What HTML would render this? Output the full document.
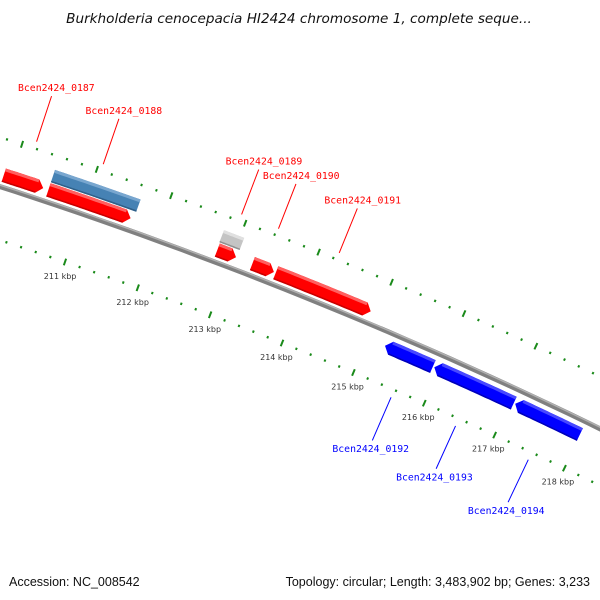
<!DOCTYPE html>
<html><head><meta charset="utf-8"><style>
body{margin:0;background:#fff}
svg{display:block}
text{font-family:"DejaVu Sans","Liberation Sans",sans-serif}
.gl{font-family:"DejaVu Sans Mono","Liberation Mono",monospace;font-size:9.8px}
</style></head><body>
<svg id="map" width="600" height="600" viewBox="0 0 600 600" xmlns="http://www.w3.org/2000/svg">
<rect width="600" height="600" fill="#fff"/>
<text x="299" y="23" text-anchor="middle" font-size="13.6" font-style="italic" fill="#111">Burkholderia cenocepacia HI2424 chromosome 1, complete seque...</text>
<g id="ticks"></g>
<g id="backbone"></g>
<g id="genes"></g>
<g id="labels"></g>
<text x="9" y="586" font-size="12.5" fill="#111" style="font-family:'Liberation Sans',sans-serif">Accession: NC_008542</text>
<text x="590" y="586" font-size="12.5" fill="#111" text-anchor="end" style="font-family:'Liberation Sans',sans-serif">Topology: circular; Length: 3,483,902 bp; Genes: 3,233</text>
</svg>
<script>
const geneNames = ["Bcen2424_0187","Bcen2424_0188","","Bcen2424_0189","","Bcen2424_0190","Bcen2424_0191","Bcen2424_0192","Bcen2424_0193","Bcen2424_0194"];
const geneStarts = [209900,210500,210500,212790,212780,213270,213590,215240,215930,217070];
const geneEnds   = [210430,211610,211650,213045,213055,213565,214900,215910,217050,217990];
const geneStrands = [1,1,1,1,1,1,1,-1,-1,-1];
const geneRows = [0,0,1,0,1,0,0,0,0,0];
const geneKinds = ["cds","cds","gene","cds","gene","cds","cds","cds","cds","cds"];
const tickStartBp = 208000, tickEndBp = 220000, tickStep = 200, majorStep = 1000;

const NS="http://www.w3.org/2000/svg";
const CX=-1400, CY=4519, RB=4553, RUP=4600, RLO=4502;
function ang(bp){return (-71.01+(bp-211000)/1000*0.983)*Math.PI/180;}
function pt(bp,r){const a=ang(bp);return [CX+r*Math.cos(a),CY+r*Math.sin(a)];}
function mk(tag,attrs,parent){const e=document.createElementNS(NS,tag);for(const k in attrs)e.setAttribute(k,attrs[k]);parent.appendChild(e);return e;}
function arcPts(b0,b1,r,n){const p=[];for(let i=0;i<=n;i++){p.push(pt(b0+(b1-b0)*i/n,r));}return p;}
function ps(p){return p.map(q=>q[0].toFixed(1)+","+q[1].toFixed(1)).join(" ");}

const bb=document.getElementById('backbone');
let l=mk('polyline',{points:ps(arcPts(205000,222000,RB,60)),fill:'none',stroke:'#808080','stroke-width':5},bb);


l=mk('polyline',{points:ps(arcPts(205000,222000,RB+1.5,60)),fill:'none',stroke:'#b0b0b0','stroke-width':1.5},bb);



const tg=document.getElementById('ticks');
for(let bp=tickStartBp;bp<=tickEndBp;bp+=tickStep){
  const major=bp%majorStep===0;
  const len=major?3.5:1.2;
  [RUP,RLO].forEach(r=>{
    const a=pt(bp,r-len),b=pt(bp,r+len);
    const t=mk('line',{x1:a[0],y1:a[1],x2:b[0],y2:b[1],stroke:'#1a8a1a','stroke-width':2},tg);
    
    
  });
  if(major){
    const c=pt(bp,RLO-15);
    if(c[0]<20||c[0]>585) continue;
    const tx=mk('text',{x:c[0],y:c[1]+3,'text-anchor':'middle','font-size':8,fill:'#333'},tg);
    tx.textContent=(bp/1000)+" kbp";
    
    
  }
}

const gg=document.getElementById('genes');
const lg=document.getElementById('labels');
const colors={red:['#ff0000','#ff6060','#c80000'],steel:['#4682b4','#78a6cf','#2f5f88'],gray:['#c4c4c4','#e0e0e0','#909090'],blue:['#0000ff','#4848ff','#0000b8']};
for(let i=0;i<geneStarts.length;i++){
  const s=geneStarts[i],e=geneEnds[i],st=geneStrands[i],row=geneRows[i];
  let r0,r1;
  if(st>0){r0=row?4573:4558;r1=row?4586:4572;}else{r0=4532;r1=4546;}
  let col;
  if(geneKinds[i]==='gene') col=(e-s>600)?colors.steel:colors.gray;
  else col=st>0?colors.red:colors.blue;
  const g=mk('g',{},gg);
  
  
  const n=20;
  let poly;
  const head=Math.min(80,(e-s)/3);
  const rm=(r0+r1)/2;
  if(geneKinds[i]==='gene'){
    poly=arcPts(s,e,r1,n).concat(arcPts(e,s,r0,n));
  } else if(st>0){
    poly=arcPts(s,e-head,r1,n).concat([pt(e,rm)]).concat(arcPts(e-head,s,r0,n));
  } else {
    poly=[pt(s,rm)].concat(arcPts(s+head,e,r1,n)).concat(arcPts(e,s+head,r0,n));
  }
  const m=mk('polygon',{points:ps(poly),fill:col[0]},g);
  
  
  const hs=geneKinds[i]==='gene'?s:(st>0?s:s+head), he=geneKinds[i]==='gene'?e:(st>0?e-head:e);
  const tp=mk('polygon',{points:ps(arcPts(hs,he,r1,n).concat(arcPts(he,hs,r1-3,n))),fill:col[1]},g);
  
  
  const bt=mk('polygon',{points:ps(arcPts(hs,he,r0+1.5,n).concat(arcPts(he,hs,r0,n))),fill:col[2]},g);
  
  

  if(geneNames[i]){
    const mid=(s+e)/2;
    const lc=st>0?'#ff0000':'#0000ff';
    const a=pt(mid,st>0?4607:4494), b=pt(mid,st>0?4655:4447);
    const ln=mk('line',{x1:a[0],y1:a[1],x2:b[0],y2:b[1],stroke:lc,'stroke-width':1},lg);
    
    
    const c=pt(mid,st>0?4664:4438);
    const tx=mk('text',{x:c[0]+2,y:c[1]+3.5,'text-anchor':'middle',fill:lc,class:'gl'},lg);
    tx.textContent=geneNames[i];
    
    
  }
}
</script>
</body></html>
